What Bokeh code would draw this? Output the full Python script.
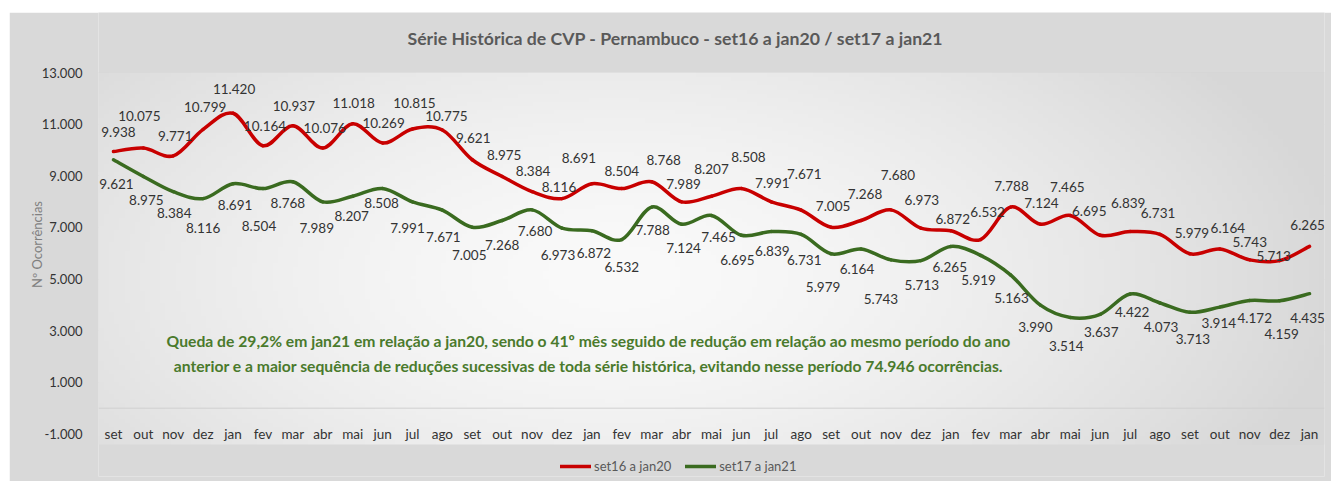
import numpy as np
from bokeh.plotting import figure
from bokeh.layouts import column, row
from bokeh.models import (Range1d, FixedTicker, Label, Legend, LegendItem, Span, Spacer,
                          ColumnDataSource)
from bokeh.core.properties import value
from bokeh.embed import file_html
from bokeh.resources import INLINE

# ---------------- data ----------------
months = (["set", "out", "nov", "dez", "jan", "fev", "mar", "abr", "mai", "jun", "jul", "ago"] * 3
          + ["set", "out", "nov", "dez", "jan"])

serie_set16_jan20 = [9938, 10075, 9771, 10799, 11420, 10164, 10937, 10076, 11018, 10269, 10815, 10775,
                     9621, 8975, 8384, 8116, 8691, 8504, 8768, 7989, 8207, 8508, 7991, 7671,
                     7005, 7268, 7680, 6973, 6872, 6532, 7788, 7124, 7465, 6695, 6839, 6731,
                     5979, 6164, 5743, 5713, 6265]

serie_set17_jan21 = [9621, 8975, 8384, 8116, 8691, 8504, 8768, 7989, 8207, 8508, 7991, 7671,
                     7005, 7268, 7680, 6973, 6872, 6532, 7788, 7124, 7465, 6695, 6839, 6731,
                     5979, 6164, 5743, 5713, 6265, 5919, 5163, 3990, 3514, 3637, 4422, 4073,
                     3713, 3914, 4172, 4159, 4435]

series_names = ["set16 a jan20", "set17 a jan21"]
y_ticks = [-1000, 1000, 3000, 5000, 7000, 9000, 11000, 13000]
y_tick_labels = ["-1.000", "1.000", "3.000", "5.000", "7.000", "9.000", "11.000", "13.000"]

title_text = "Série Histórica de CVP - Pernambuco - set16 a jan20 /  set17 a jan21"
y_title = "Nº Ocorrências"
note_lines = [
    "Queda de 29,2% em jan21 em relação a jan20, sendo o 41º mês seguido de redução em relação ao mesmo período do ano",
    "anterior e a maior sequência de reduções sucessivas de toda série histórica, evitando nesse período 74.946 ocorrências.",
]

# ---------------- styles (label placement offsets in pixels) ----------------
red_label_dx = [5, -4, 2, 2, 1, 2, 1, 2, 1, 1, 2, 4, 1, 2, 1, -3, -13, 0, 12, 2,
                0, 7, 1, 3, 2, 4, 7, 1, 2, 7, 1, 1, -3, -11, -2, -2, 2, 8, 0, -6, -2]
red_label_dy = [-20, -32, -20, -22, -24, -20, -20, -20, -21, -20, -26, -14, -22, -21, -21, -12, -26, -18, -22, -18,
                -27, -31, -19, -36, -21, -27, -35, -28, -12, -28, -21, -21, -28, -24, -29, -21, -21, -21, -18, -5, -21]
green_label_dx = [3, 3, 1, 0, 2, -4, -5, -6, -1, -1, -5, 1, -3, 0, 3, -4, 2, 0, 1, 2,
                  7, -4, 1, 3, -8, -4, -10, 1, -1, -2, 1, -5, -4, 1, 2, 1, 3, -1, 5, 2, -2]
green_label_dy = [24, 24, 21, 29, 21, 37, 21, 26, 20, 15, 26, 27, 28, 24, 21, 27, 22, 27, 23, 24,
                  22, 25, 19, 26, 33, 20, 39, 24, 21, 25, 23, 22, 29, 18, 18, 24, 27, 16, 18, 33, 24]

RED = "#c80000"
GREEN = "#3a6b20"
FONT = "Lato"


def fmt(v):
    return f"{v:,}".replace(",", ".")


def smooth_segments(ys):
    """Bezier control points (Catmull-Rom style) for a smoothed line."""
    y = np.asarray(ys, dtype=float)
    x = np.arange(len(y), dtype=float)
    n = len(y)
    idx = np.arange(n - 1)
    im1 = np.clip(idx - 1, 0, n - 1)
    ip2 = np.clip(idx + 2, 0, n - 1)
    x0, y0 = x[idx], y[idx]
    x1, y1 = x[idx + 1], y[idx + 1]
    cx0 = x0 + (x1 - x[im1]) / 6.0
    cy0 = y0 + (y1 - y[im1]) / 6.0
    cx1 = x1 - (x[ip2] - x0) / 6.0
    cy1 = y1 - (y[ip2] - y0) / 6.0
    return dict(x0=x0, y0=y0, x1=x1, y1=y1, cx0=cx0, cy0=cy0, cx1=cx1, cy1=cy1)


# ---------------- figure ----------------
# frame spans the whole figure height; the light plot area covers Y_AREA..Y_TOP
Y_BOTTOM, Y_AREA, Y_TOP, Y_FRAME_TOP = -2646, -1407, 13000, 15324
p = figure(width=1322, height=469, output_backend="svg", toolbar_location=None,
           x_range=Range1d(-0.5, 40.5), y_range=Range1d(Y_BOTTOM, Y_FRAME_TOP),
           min_border_left=89, min_border_right=7, min_border_top=0, min_border_bottom=5,
           border_fill_color="#d9d9d9", background_fill_color="#d9d9d9", outline_line_color=None)
p.title.text = ""

# plot-area gradient background
H, W = 90, 240
fy, fx = np.mgrid[0:H, 0:W]
fx = fx / (W - 1)
fy = fy / (H - 1)
d = np.sqrt(((fx - 0.42) / 0.58) ** 2 + ((fy - 0.45) / 0.95) ** 2)
g = np.clip(250 - 33 * np.clip(d, 0, 1.2) ** 1.5, 215, 252).astype(np.uint32)
img = (255 << 24) | (g << 16) | (g << 8) | g
p.image_rgba(image=[img.view(np.uint32)], x=-0.5, y=Y_AREA, dw=41, dh=Y_TOP - Y_AREA)

# title (drawn inside the grey band above the plot area)
p.add_layout(Label(x=309, y=438, x_units="screen", y_units="screen", text=title_text,
                   text_font=FONT, text_font_style="bold", text_font_size="17.7px",
                   text_color="#595959", text_align="left", text_baseline="middle"))

# grid / axes
p.xgrid.visible = False
p.ygrid.ticker = FixedTicker(ticks=y_ticks[1:])
p.ygrid.grid_line_color = "#d6d6d6"
p.ygrid.grid_line_width = 1
p.add_layout(Span(location=0, dimension="width", line_color="#d0d0d0", line_width=1))

p.yaxis.ticker = FixedTicker(ticks=y_ticks)
p.yaxis.major_label_overrides = {t: l for t, l in zip(y_ticks, y_tick_labels)}
p.yaxis.axis_line_color = None
p.yaxis.major_tick_line_color = None
p.yaxis.minor_tick_line_color = None
p.yaxis.major_label_standoff = 10
p.yaxis.major_label_text_font = FONT
p.yaxis.major_label_text_font_size = "13px"
p.yaxis.major_label_text_color = "#333333"
p.yaxis.axis_label = y_title
p.yaxis.axis_label_text_font = FONT
p.yaxis.axis_label_text_font_style = "normal"
p.yaxis.axis_label_text_font_size = "13px"
p.yaxis.axis_label_text_color = "#808080"
p.yaxis.axis_label_standoff = -6

p.xaxis.ticker = FixedTicker(ticks=list(range(len(months))))
p.xaxis.major_label_overrides = {i: m for i, m in enumerate(months)}
p.xaxis.fixed_location = y_ticks[0]
p.xaxis.axis_line_color = None
p.xaxis.major_tick_line_color = None
p.xaxis.minor_tick_line_color = None
p.xaxis.major_label_standoff = -14
p.xaxis.major_label_text_font = FONT
p.xaxis.major_label_text_font_size = "13.5px"
p.xaxis.major_label_text_color = "#333333"

# lines
r_red = p.bezier(**smooth_segments(serie_set16_jan20), line_color=RED, line_width=3.5, line_cap="round")
r_green = p.bezier(**smooth_segments(serie_set17_jan21), line_color=GREEN, line_width=3.5, line_cap="round")

# data labels
xs = list(range(len(months)))
for vals, dx, dy in [(serie_set16_jan20, red_label_dx, red_label_dy),
                     (serie_set17_jan21, green_label_dx, green_label_dy)]:
    src = ColumnDataSource(dict(x=xs, y=vals, t=[fmt(v) for v in vals], dx=dx, dy=dy))
    p.text(x="x", y="y", text="t", x_offset="dx", y_offset="dy", source=src,
           text_font=value(FONT), text_font_size="13.5px", text_color="#333333",
           text_align="center", text_baseline="middle")

# note
for txt, yy in zip(note_lines, [136, 111]):
    p.add_layout(Label(x=490, y=yy, x_units="screen", y_units="screen", text=txt,
                       text_font=FONT, text_font_style="bold", text_font_size="15.7px",
                       text_color="#4a7a2c", text_align="center", text_baseline="middle"))

# legend (inside the frame, at its bottom)
legend = Legend(items=[LegendItem(label=series_names[0], renderers=[r_red]),
                       LegendItem(label=series_names[1], renderers=[r_green])],
                orientation="horizontal", location=(462, 2),
                background_fill_alpha=0, border_line_color=None,
                padding=0, margin=0, spacing=14, glyph_width=31, glyph_height=12,
                label_height=12, label_standoff=3,
                label_text_font=FONT, label_text_font_size="13px", label_text_color="#595959")
p.add_layout(legend)

layout = column(Spacer(height=12), row(Spacer(width=9), p))
open("out.html", "w").write(file_html(layout, INLINE))
